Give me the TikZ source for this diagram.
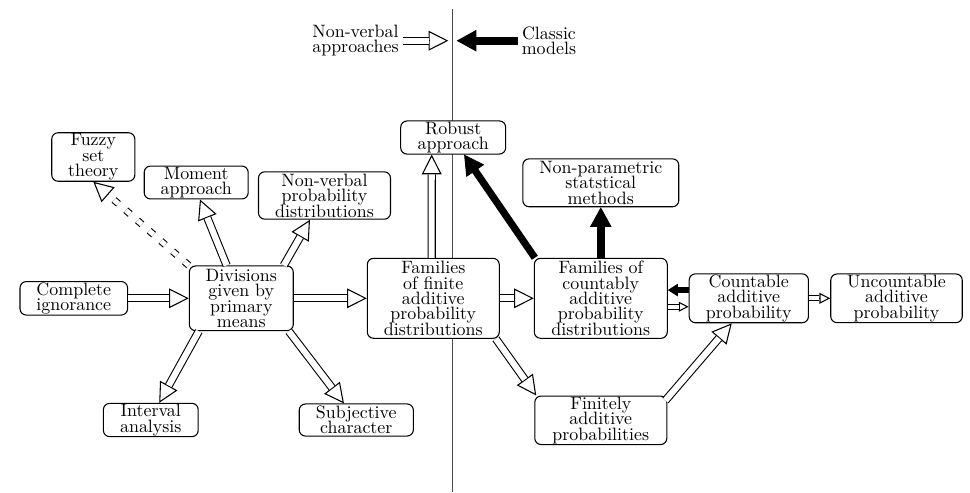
\documentclass[tikz,border=0pt]{standalone}
\usetikzlibrary{arrows.meta, positioning, calc}
\definecolor{cgrey}{HTML}{4D4D4D}
\tikzset{
  every picture/.style={line width=0.6pt},
  box/.style={draw, fill=white, rounded corners=3.5pt, align=center, inner sep=0.5pt,
    font={\fontsize{10}{8.6}\selectfont\lineskiplimit=-5pt}},
  tag/.style={align=center, inner sep=2pt, font={\fontsize{10}{8.6}\selectfont\lineskiplimit=-5pt}},
  shaft/.style={double, double distance=3.4pt},
  hollow/.style={-{Triangle[open, length=#1, width=#1]}},
  heavy/.style={line width=#1, -{Triangle[length=11pt, width=12pt, line width=0.5pt]}},
}
% double shaft with an open head: [shaft options]{head length}{from}{to}
\newcommand{\dblarrow}[4][]{%
  \draw[hollow=#2] ($(#4)!#2!(#3)$) -- (#4);
  \draw[shaft, shorten >=#2, #1] (#3) -- (#4);
}

\begin{document}
\begin{tikzpicture}[x=0.01963cm, y=-0.01963cm]
  \useasboundingbox (0,0) rectangle (970,492);
  \coordinate (dtop) at (452.7,9);
  \coordinate (dbot) at (452.7,492);
  \coordinate (ml) at (448.3,40.7);
  \coordinate (mr) at (456.7,40.7);
  \draw[cgrey] (dtop) -- (dbot);
  \node[tag, anchor=east] (nva) at (402.7,40.7) {Non-verbal\\approaches};
  \node[tag, anchor=west] (cm) at (517.7,40.7) {Classic\\models};

  \node[box, minimum width=1.63cm, minimum height=0.94cm] (fz) at (93.3,157) {Fuzzy\\set\\theory};
  \node[box, minimum width=2.04cm, minimum height=0.62cm] (mo) at (196.2,182.5) {Moment\\approach};
  \node[box, minimum width=2.59cm, minimum height=0.93cm] (nv) at (324.5,195.5) {Non-verbal\\probability\\distributions};
  \node[box, minimum width=2.11cm, minimum height=0.63cm] (ci) at (73.8,298.3) {Complete\\ignorance};
  \node[box, minimum width=2.04cm, minimum height=1.27cm] (dv) at (241.3,298.3) {Divisions\\given by\\primary\\means};
  \node[box, minimum width=1.86cm, minimum height=0.63cm] (ia) at (150.8,420) {Interval\\analysis};
  \node[box, minimum width=2.24cm, minimum height=0.63cm] (sc) at (356.3,420) {Subjective\\character};
  \node[box, minimum width=2.59cm, minimum height=1.57cm] (ff) at (433.3,298.3) {Families\\of finite\\additive\\probability\\distributions};
  \node[box, minimum width=2.06cm, minimum height=0.62cm] (ra) at (453.2,137.5) {Robust\\approach};
  \node[box, minimum width=3.06cm, minimum height=0.94cm] (np) at (600.8,182.8) {Non-parametric\\statstical\\methods};
  \node[box, minimum width=2.61cm, minimum height=1.57cm] (fc) at (600.8,298.3) {Families of\\countably\\additive\\probability\\distributions};
  \node[box, minimum width=2.34cm, minimum height=0.94cm] (cap) at (748.8,298.3) {Countable\\additive\\probability};
  \node[box, minimum width=2.58cm, minimum height=0.94cm] (unc) at (896.5,298.3) {Uncountable\\additive\\probability};
  \node[box, minimum width=2.59cm, minimum height=0.93cm] (fa) at (600.8,420.3) {Finitely\\additive\\probabilities};

  \dblarrow{11pt}{nva.east}{ml}
  \draw[heavy=4.4pt] (cm.west) -- (mr);

  \dblarrow{11pt}{ci.east}{dv.west}
  \dblarrow[double distance=2.8pt, dash pattern=on 3.3pt off 5.4pt]{11pt}{dv.north west}{fz.south}
  \dblarrow{11pt}{[xshift=-8.2pt]dv.north}{[xshift=2.1pt]mo.south}
  \dblarrow{11pt}{[xshift=-5.6pt]dv.north east}{[xshift=-8.1pt]nv.south}
  \dblarrow{11pt}{[xshift=5.6pt]dv.south west}{[xshift=4.7pt]ia.north}
  \dblarrow{11pt}{[xshift=-2.8pt]dv.south east}{[xshift=-6.9pt]sc.north}
  \dblarrow{11pt}{dv.east}{ff.west}
  \dblarrow{11pt}{[xshift=-0.9pt]ff.north}{[xshift=-12pt]ra.south}
  \dblarrow{11pt}{ff.east}{fc.west}
  \dblarrow{11pt}{[xshift=-2.2pt]ff.south east}{[xshift=1.1pt]fa.north west}

  \draw[heavy=4pt] ([xshift=0.6pt]fc.north west) -- ([xshift=6.1pt]ra.south);
  \draw[heavy=4.5pt] (fc.north) -- (np.south);
  \draw[line width=3.2pt, -{Triangle[length=5.6pt, width=7pt, line width=0.5pt]}] ([yshift=4.6pt]cap.west) -- ([yshift=4.6pt]fc.east);
  \dblarrow[double distance=2.2pt]{5.5pt}{[yshift=-4.7pt]fc.east}{[yshift=-4.7pt]cap.west}
  \dblarrow[double distance=2.2pt]{6pt}{cap.east}{unc.west}
  \dblarrow{11pt}{[xshift=-1.1pt, yshift=-2.8pt]fa.north east}{[xshift=-9.5pt]cap.south}
\end{tikzpicture}
\end{document}
